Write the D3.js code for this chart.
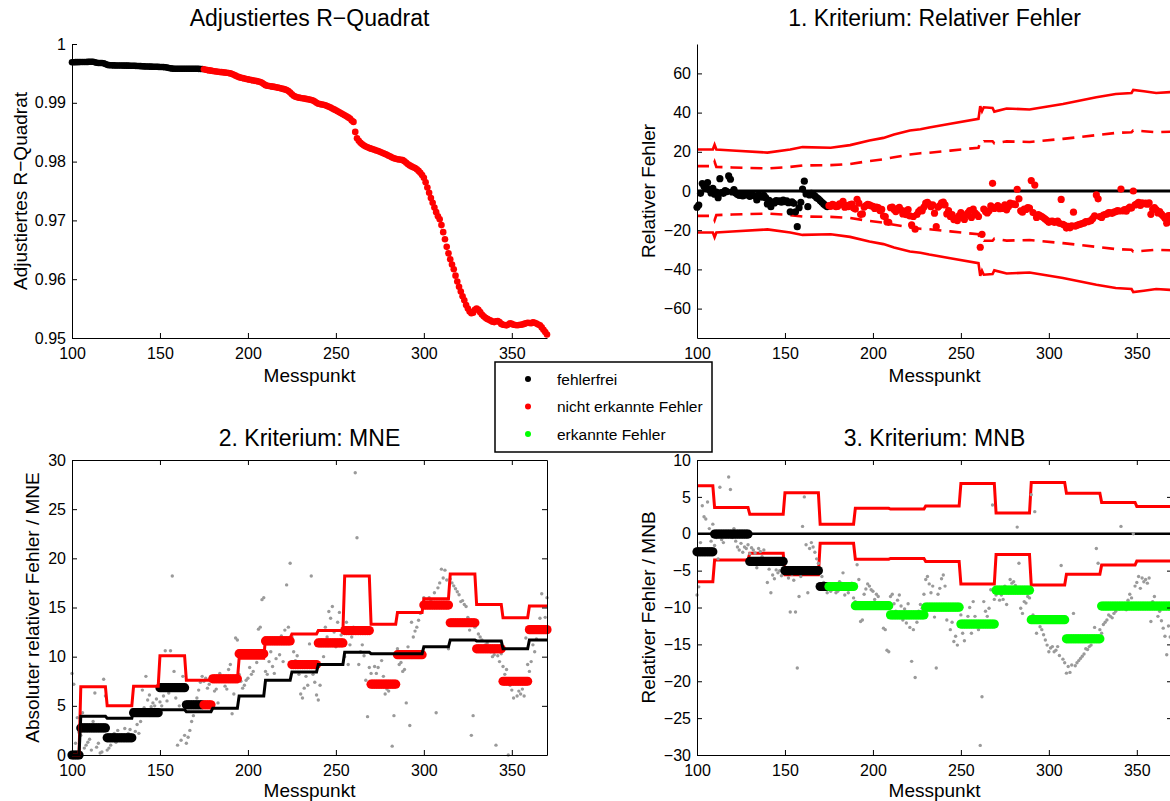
<!DOCTYPE html>
<html><head><meta charset="utf-8">
<script src="https://cdn.jsdelivr.net/npm/d3@7"></script>
<style>
body{margin:0;background:#fff;}
svg{display:block;font-family:"Liberation Sans",Arial,Helvetica,sans-serif;}
</style></head><body>
<svg id="c" width="1170" height="801"></svg>
<script>
// ---------------- DATA ----------------
const messpunktStart = 100, messpunktEnde = 370;
const ersterFehler = 175; // ab hier: Fehler (nicht erkannt / erkannt)

// Adjustiertes R-Quadrat je Messpunkt (100..370)
const rQuadrat = [
 0.99690,0.99690,0.99691,0.99692,0.99692,0.99693,0.99693,0.99694,0.99695,0.99696,
 0.99697,0.99698,0.99697,0.99690,0.99680,0.99678,0.99677,0.99676,0.99672,0.99660,
 0.99645,0.99640,0.99638,0.99637,0.99636,0.99635,0.99635,0.99634,0.99634,0.99633,
 0.99633,0.99632,0.99632,0.99631,0.99630,0.99629,0.99628,0.99627,0.99625,0.99623,
 0.99621,0.99619,0.99618,0.99617,0.99616,0.99615,0.99614,0.99613,0.99612,0.99611,
 0.99610,0.99609,0.99607,0.99604,0.99600,0.99592,0.99586,0.99582,0.99580,0.99579,
 0.99578,0.99578,0.99579,0.99579,0.99580,0.99580,0.99580,0.99580,0.99579,0.99579,
 0.99578,0.99578,0.99577,0.99576,0.99575,0.99570,0.99562,0.99556,0.99551,0.99547,
 0.99542,0.99537,0.99533,0.99529,0.99525,0.99521,0.99518,0.99514,0.99510,0.99506,
 0.99500,0.99490,0.99478,0.99462,0.99448,0.99436,0.99427,0.99420,0.99413,0.99406,
 0.99399,0.99392,0.99386,0.99380,0.99374,0.99368,0.99362,0.99355,0.99340,0.99320,
 0.99300,0.99290,0.99285,0.99280,0.99275,0.99270,0.99264,0.99258,0.99252,0.99244,
 0.99236,0.99228,0.99218,0.99200,0.99175,0.99145,0.99120,0.99105,0.99095,0.99088,
 0.99082,0.99077,0.99072,0.99066,0.99060,0.99054,0.99048,0.99040,0.99020,0.99000,
 0.98985,0.98978,0.98972,0.98966,0.98958,0.98946,0.98932,0.98918,0.98903,0.98888,
 0.98872,0.98856,0.98840,0.98822,0.98805,0.98788,0.98770,0.98752,0.98732,0.98700,
 0.98675,0.98505,0.98395,0.98355,0.98320,0.98295,0.98275,0.98258,0.98244,0.98230,
 0.98220,0.98210,0.98200,0.98190,0.98180,0.98168,0.98155,0.98142,0.98128,0.98115,
 0.98100,0.98085,0.98070,0.98058,0.98048,0.98040,0.98036,0.98032,0.98025,0.98005,
 0.97980,0.97955,0.97935,0.97918,0.97905,0.97890,0.97870,0.97842,0.97810,0.97770,
 0.97725,0.97650,0.97560,0.97470,0.97380,0.97300,0.97220,0.97140,0.97070,0.97020,
 0.96920,0.96800,0.96680,0.96550,0.96440,0.96340,0.96250,0.96170,0.96060,0.95960,
 0.95870,0.95790,0.95710,0.95640,0.95560,0.95500,0.95450,0.95420,0.95430,0.95480,
 0.95500,0.95480,0.95440,0.95400,0.95370,0.95345,0.95325,0.95310,0.95295,0.95278,
 0.95270,0.95285,0.95290,0.95270,0.95240,0.95225,0.95220,0.95215,0.95230,0.95250,
 0.95240,0.95225,0.95220,0.95218,0.95220,0.95225,0.95230,0.95240,0.95250,0.95260,
 0.95255,0.95250,0.95265,0.95260,0.95245,0.95230,0.95215,0.95180,0.95140,0.95100,
 0.95060
];

// Relativer Fehler je Messpunkt (100..370), in %
const relFehler = [
 -8.3,-7.2,-1.2,3.8,2.3,2.0,4.3,0.7,-1.0,1.3,
 -1.6,-0.5,-3.4,6.3,-0.8,-1.2,0.2,-0.3,7.7,6.0,
 -0.5,0.7,-1.0,-1.8,-2.2,-1.3,-2.5,-1.8,-2.0,-1.5,
 -2.7,-1.9,-2.2,-2.6,-4.6,-2.0,-2.4,-3.1,-2.2,-3.4,
 -6.6,-4.8,-8.0,-5.6,-6.1,-4.9,-5.3,-5.0,-5.7,-4.6,
 -5.4,-5.0,-6.0,-10.6,-5.5,-6.3,-10.6,-18.2,-8.5,-5.8,
 1.0,5.0,-1.5,-8.0,-2.0,-1.2,-1.8,-2.5,-3.4,-4.0,
 -4.9,-5.8,-6.6,-7.4,-8.0,-7.5,-7.8,-6.8,-7.2,-8.0,
 -7.8,-6.5,-6.7,-5.3,-8.3,-7.5,-8.0,-7.0,-6.7,-8.7,
 -9.2,-4.2,-6.2,-11.9,-11.7,-8.2,-7.5,-6.8,-7.1,-7.6,
 -7.8,-8.9,-8.2,-8.5,-10.0,-9.4,-12.8,-13.0,-15.8,-16.0,
 -8.5,-8.2,-9.5,-10.5,-9.0,-8.3,-9.8,-11.7,-10.2,-12.1,
 -9.5,-12.7,-17.3,-13.0,-19.5,-12.0,-10.5,-9.6,-10.1,-8.2,
 -6.2,-5.8,-6.8,-8.0,-7.1,-11.3,-18.2,-8.2,-7.4,-6.1,
 -5.6,-7.1,-11.7,-10.0,-13.0,-12.0,-14.6,-13.9,-15.1,-12.5,
 -11.0,-13.5,-14.5,-12.2,-11.2,-10.0,-13.5,-9.2,-11.2,-12.0,
 -13.0,-28.7,-22.1,-9.2,-10.5,-11.2,-10.1,-7.6,3.9,-8.9,
 -8.3,-7.4,-9.0,-8.3,-8.9,-7.1,-9.6,-8.0,-6.2,-6.7,
 -6.5,-7.0,0.9,-4.0,-10.1,-10.8,-9.2,-9.4,-8.5,-8.7,
 5.3,-11.0,3.0,-13.5,-12.0,-12.6,-13.0,-13.7,-14.4,-15.1,
 -16.0,-15.5,-15.3,-16.0,-15.8,-15.3,-16.5,-4.3,-17.0,-17.5,
 -18.9,-18.0,-18.8,-17.8,-10.8,-17.9,-17.5,-17.2,-16.9,-16.6,
 -16.3,-15.6,-15.7,-15.3,-15.1,-14.0,-12.7,-2.0,-4.0,-13.0,
 -13.5,-12.3,-12.0,-11.7,-11.0,-11.2,-11.4,-10.8,-10.5,-10.0,
 -10.2,1.0,-10.1,-9.5,-10.3,-9.0,-8.2,-8.7,0.0,-7.1,
 -6.6,-5.8,-7.4,-6.0,-6.5,-6.2,-6.7,-6.0,-11.9,-9.2,
 -8.5,-9.5,-11.2,-10.5,-11.8,-12.8,-13.9,-16.4,-12.5,-14.0,
 -16.0
];

// 1. Kriterium: Grenzen (symmetrisch +/-)
const grenzeX      = [100,109,110,111,120,140,153,160,176,187,198,206,212,221,227,232,244,260,261,262,263,268,269,276,289,308,327,338,347,348,354,361,370];
const grenzeAussen = [21.2,21.2,23.6,21.2,20.7,19.6,21.2,22.4,22.1,23.4,25.8,27.1,28.8,30.9,31.5,32.4,34.3,36.8,43.3,40.7,42.7,42.4,40.5,42.1,41.6,44.4,47.8,49.5,50.0,51.6,50.9,50.0,50.5];
const grenzeInnen  = [12.7,12.7,14.9,12.3,12.0,11.5,12.3,13.0,13.2,13.8,15.3,16.2,17.2,18.6,19.3,19.5,20.6,22.1,25.0,24.4,25.4,25.4,24.3,25.3,25.0,26.6,28.5,29.6,30.0,30.9,30.5,30.0,30.3];

// 2. Kriterium: MNE (Fenster)
const mneStart    = [100,105,120,135,150,165,180,195,210,225,240,255,270,285,300,315,330,345,360];
const mneWert     = [0,2.75,1.75,4.3,6.85,5.1,7.75,10.3,11.6,9.2,11.4,12.65,7.2,10.2,15.25,13.45,10.8,7.5,12.75];
const mneReferenz = [0,3.95,3.75,4.55,4.6,4.4,4.75,6.0,7.6,8.45,9.2,10.45,10.3,10.3,11.0,11.7,11.6,10.8,11.7];
const mneGrenze   = [0,6.95,5.0,7.0,10.1,7.6,7.6,9.85,11.9,12.3,12.65,18.2,13.3,14.5,15.9,18.4,15.3,13.95,15.15];

// 3. Kriterium: MNB (Fenster)
const mnbStart  = [100,110,130,150,170,190,210,230,250,270,290,310,330,350];
const mnbWert   = [-2.45,-0.05,-3.75,-5.0,-7.15,-9.75,-11.0,-9.95,-12.25,-7.65,-11.65,-14.25,-9.8,-9.8];
const mnbGrenze = [6.5,3.55,2.65,5.55,1.3,3.45,3.35,3.75,6.8,2.8,6.95,5.5,4.25,3.7];

// Achsenbeschriftungen
const xTicks = [100,150,200,250,300,350];
const r2Ticks = [0.95,0.96,0.97,0.98,0.99,1];
const r2TickTexte = ["0.95","0.96","0.97","0.98","0.99","1"];
const relTicks = [-60,-40,-20,0,20,40,60];
const relTickTexte = ["\u221260","\u221240","\u221220","0","20","40","60"];
const mneTicks = [0,5,10,15,20,25,30];
const mneTickTexte = ["0","5","10","15","20","25","30"];
const mnbTicks = [-30,-25,-20,-15,-10,-5,0,5,10];
const mnbTickTexte = ["\u221230","\u221225","\u221220","\u221215","\u221210","\u22125","0","5","10"];

const legendeTexte = ["fehlerfrei","nicht erkannte Fehler","erkannte Fehler"];
const legendeFarben = ["#000000","#ff0000","#00ff00"];

// ---------------- DRAWING ----------------
const svg = d3.select("#c");
const FONT = '"Liberation Sans",Arial,Helvetica,sans-serif';
const ROT = "#ff0000", GRUEN = "#00ff00", GRAU = "#9a9a9a";
const messpunkte = d3.range(messpunktStart, messpunktEnde + 1);

const xL = d3.scaleLinear().domain([100,370]).range([72,547]);
const xR = d3.scaleLinear().domain([100,370]).range([697,1172]);
const yR2 = d3.scaleLinear().domain([0.95,1]).range([338,44]);
const yRel = d3.scaleLinear().domain([-75,75]).range([338,44]);
const yMNE = d3.scaleLinear().domain([0,30]).range([755,460]);
const yMNB = d3.scaleLinear().domain([-30,10]).range([755,460]);

function fensterWert(starts, werte, x) {
  return werte[d3.bisectRight(starts, x) - 1];
}

function styleAxis(g) {
  g.attr("font-size", 16).attr("font-family", FONT);
  g.selectAll("path.domain").attr("stroke", "#000").attr("stroke-width", 1);
  g.selectAll(".tick line").attr("stroke", "#000").attr("stroke-width", 1);
  g.selectAll(".tick text").attr("fill", "#000");
}

function achsen(x, y, yTicks, yTexte, box) {
  const [x0, x1] = x.range();
  const [y0, y1] = y.range();
  const gx = svg.append("g").attr("transform", `translate(0,${y0})`)
    .call(d3.axisBottom(x).tickValues(xTicks).tickSize(-5).tickSizeOuter(0).tickPadding(10).tickFormat(d => String(d)));
  styleAxis(gx);
  const gy = svg.append("g").attr("transform", `translate(${x0},0)`)
    .call(d3.axisLeft(y).tickValues(yTicks).tickSize(-5).tickSizeOuter(0).tickPadding(6).tickFormat((d, i) => yTexte[i]));
  styleAxis(gy);
  if (box) {
    const gt = svg.append("g").attr("transform", `translate(0,${y1})`)
      .call(d3.axisTop(x).tickValues(xTicks).tickSize(-5).tickSizeOuter(0).tickFormat(""));
    styleAxis(gt);
    const gr = svg.append("g").attr("transform", `translate(${x1},0)`)
      .call(d3.axisRight(y).tickValues(yTicks).tickSize(-5).tickSizeOuter(0).tickFormat(""));
    styleAxis(gr);
  }
}

function titel(text, cx, y) {
  svg.append("text").attr("x", cx).attr("y", y).attr("text-anchor", "middle")
    .attr("font-size", 23).attr("font-family", FONT).attr("fill", "#000").text(text);
}
function xLabel(text, cx, y) {
  svg.append("text").attr("x", cx).attr("y", y).attr("text-anchor", "middle")
    .attr("font-size", 19).attr("font-family", FONT).attr("fill", "#000").text(text);
}
function yLabel(text, x, cy) {
  svg.append("text").attr("transform", `translate(${x},${cy}) rotate(-90)`).attr("text-anchor", "middle")
    .attr("font-size", 19).attr("font-family", FONT).attr("fill", "#000").text(text);
}

const farbeStatus = (x, fehlerFarbe) => x < ersterFehler ? "#000" : fehlerFarbe;

// ===== Panel A: Adjustiertes R-Quadrat =====
svg.append("g").selectAll("circle").data(messpunkte).join("circle")
  .attr("cx", d => xL(d)).attr("cy", (d, i) => yR2(rQuadrat[i])).attr("r", 3.3)
  .attr("fill", d => farbeStatus(d, ROT));
achsen(xL, yR2, r2Ticks, r2TickTexte, false);
titel("Adjustiertes R\u2212Quadrat", 309.5, 26);
xLabel("Messpunkt", 309.5, 382);
yLabel("Adjustiertes R\u2212Quadrat", 27, 191);

// ===== Panel B: 1. Kriterium: Relativer Fehler =====
const grenzPunkte = grenzeX.map((x, i) => ({x, a: grenzeAussen[i], b: grenzeInnen[i]}));
const lineRel = (acc) => d3.line().x(d => xR(d.x)).y(d => yRel(acc(d)));
[1, -1].forEach(s => {
  svg.append("path").datum(grenzPunkte).attr("d", lineRel(d => s * d.a))
    .attr("fill", "none").attr("stroke", ROT).attr("stroke-width", 2.6);
  svg.append("path").datum(grenzPunkte).attr("d", lineRel(d => s * d.b))
    .attr("fill", "none").attr("stroke", ROT).attr("stroke-width", 2.6).attr("stroke-dasharray", "12,8");
});
svg.append("line").attr("x1", xR(100)).attr("x2", xR(370)).attr("y1", yRel(0)).attr("y2", yRel(0))
  .attr("stroke", "#000").attr("stroke-width", 3);
svg.append("g").selectAll("circle").data(messpunkte).join("circle")
  .attr("cx", d => xR(d)).attr("cy", (d, i) => yRel(relFehler[i])).attr("r", 3.6)
  .attr("fill", d => farbeStatus(d, ROT));
achsen(xR, yRel, relTicks, relTickTexte, false);
titel("1. Kriterium: Relativer Fehler", 934.5, 26);
xLabel("Messpunkt", 934.5, 382);
yLabel("Relativer Fehler", 655, 191);

// ===== Panel C: 2. Kriterium: MNE =====
svg.append("g").selectAll("circle").data(messpunkte).join("circle")
  .attr("cx", d => xL(d)).attr("cy", (d, i) => yMNE(Math.abs(relFehler[i]))).attr("r", 1.7)
  .attr("fill", GRAU);
svg.append("g").selectAll("circle").data(messpunkte).join("circle")
  .attr("cx", d => xL(d)).attr("cy", d => yMNE(fensterWert(mneStart, mneWert, d))).attr("r", 4.6)
  .attr("fill", d => farbeStatus(d, ROT));
const stufeMNE = (werte) => d3.line().x(d => xL(d)).y(d => yMNE(fensterWert(mneStart, werte, d)));
svg.append("path").datum(messpunkte).attr("d", stufeMNE(mneGrenze))
  .attr("fill", "none").attr("stroke", ROT).attr("stroke-width", 3);
svg.append("path").datum(messpunkte).attr("d", stufeMNE(mneReferenz))
  .attr("fill", "none").attr("stroke", "#000").attr("stroke-width", 3);
achsen(xL, yMNE, mneTicks, mneTickTexte, true);
titel("2. Kriterium: MNE", 309.5, 446);
xLabel("Messpunkt", 309.5, 797);
yLabel("Absoluter relativer Fehler / MNE", 39, 607.5);

// ===== Panel D: 3. Kriterium: MNB =====
const stufeMNB = (s) => d3.line().x(d => xR(d)).y(d => yMNB(s * fensterWert(mnbStart, mnbGrenze, d)));
[1, -1].forEach(s => {
  svg.append("path").datum(messpunkte).attr("d", stufeMNB(s))
    .attr("fill", "none").attr("stroke", ROT).attr("stroke-width", 3);
});
svg.append("line").attr("x1", xR(100)).attr("x2", xR(370)).attr("y1", yMNB(0)).attr("y2", yMNB(0))
  .attr("stroke", "#000").attr("stroke-width", 2.6);
svg.append("g").selectAll("circle").data(messpunkte).join("circle")
  .attr("cx", d => xR(d)).attr("cy", (d, i) => yMNB(relFehler[i])).attr("r", 1.7)
  .attr("fill", GRAU);
svg.append("g").selectAll("circle").data(messpunkte).join("circle")
  .attr("cx", d => xR(d)).attr("cy", d => yMNB(fensterWert(mnbStart, mnbWert, d))).attr("r", 4.6)
  .attr("fill", d => farbeStatus(d, GRUEN));
achsen(xR, yMNB, mnbTicks, mnbTickTexte, true);
titel("3. Kriterium: MNB", 934.5, 446);
xLabel("Messpunkt", 934.5, 797);
yLabel("Relativer Fehler / MNB", 655, 607.5);

// ===== Legende =====
const leg = svg.append("g");
leg.append("rect").attr("x", 495).attr("y", 362).attr("width", 217).attr("height", 90)
  .attr("fill", "#fff").attr("stroke", "#000").attr("stroke-width", 1.5);
legendeTexte.forEach((t, i) => {
  const yy = 379 + i * 27.5;
  leg.append("circle").attr("cx", 528).attr("cy", yy).attr("r", 3).attr("fill", legendeFarben[i]);
  leg.append("text").attr("x", 557).attr("y", yy + 5.5).attr("font-size", 15.5)
    .attr("font-family", FONT).attr("fill", "#000").text(t);
});
</script>
</body></html>
